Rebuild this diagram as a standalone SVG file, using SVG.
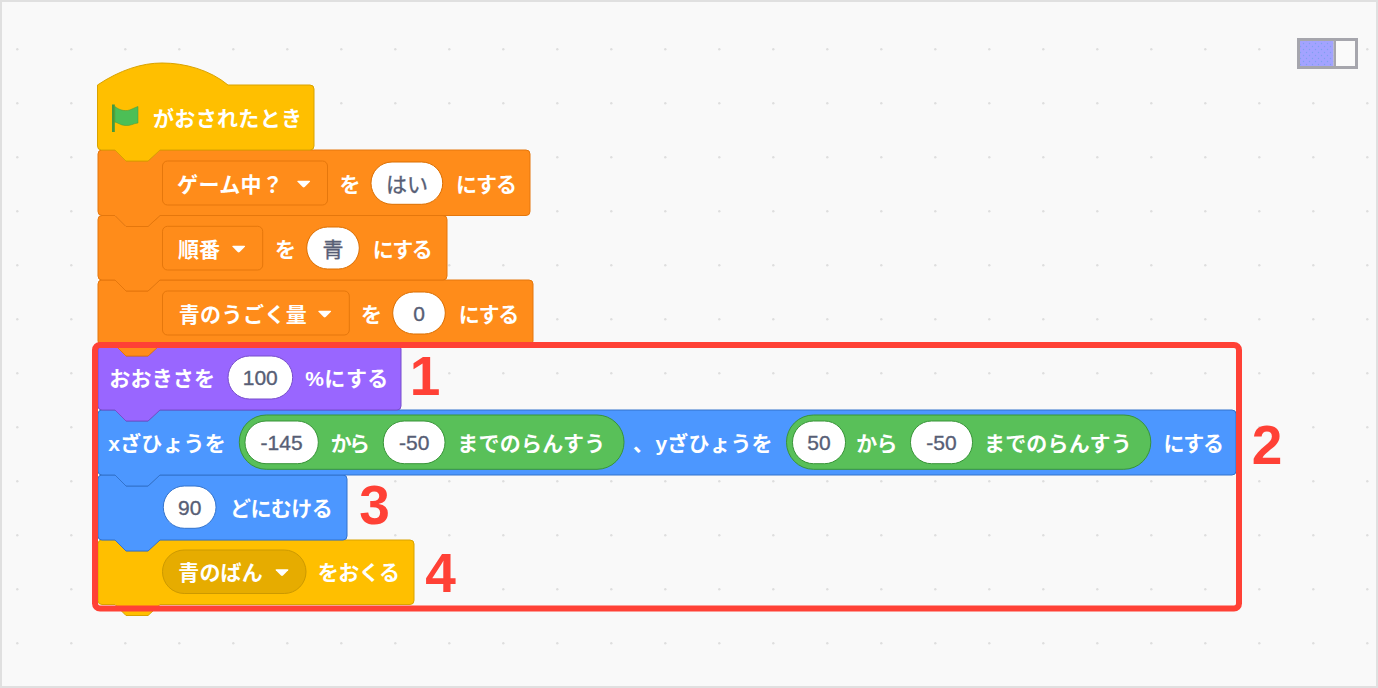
<svg xmlns="http://www.w3.org/2000/svg" width="1378" height="688" viewBox="0 0 1378 688">
<style>
.t{font-family:"Liberation Sans","Noto Sans CJK JP",sans-serif;font-size:21px;font-weight:700;fill:#fff;stroke:none}
.v{font-family:"Liberation Sans","Noto Sans CJK JP",sans-serif;font-size:21px;fill:#575e75;stroke:#575e75;stroke-width:.35;text-anchor:middle}
.n{font-family:"Liberation Sans",sans-serif;font-size:55px;font-weight:700;fill:#ff4136;text-anchor:middle}
.or{fill:#ff8c1a;stroke:#e5770c}
.pu{fill:#9966ff;stroke:#774dcb}
.bl{fill:#4c97ff;stroke:#3373cc}
.ye{fill:#ffbf00;stroke:#d9a300}
.gr{fill:#59c059;stroke:#389438}
.pi{fill:#fff}
.tr{fill:#fff}
</style>
<defs>
<pattern id="grid" width="54" height="54" patternUnits="userSpaceOnUse"><circle cx="17.3" cy="49.3" r="1.2" fill="#dedede"/></pattern>
<pattern id="speck" width="6" height="6" patternUnits="userSpaceOnUse"><rect width="6" height="6" fill="#a3a3ff"/><circle cx="1.5" cy="1.5" r=".7" fill="#7fa0f0"/><circle cx="4.5" cy="4.5" r=".7" fill="#7fa0f0"/></pattern>
<path id="drop" d="M-5.500,-3.200 H5.500 Q7,-3.200 6.200,-2.200 L1,3 Q0,3.900 -1,3 L-6.200,-2.200 Q-7,-3.200 -5.500,-3.200 Z"/>
</defs>
<rect id="canvas" x="1" y="1" width="1376" height="686" fill="#f9f9f9" stroke="#e0e0e0" stroke-width="2"/>
<rect id="dots" x="2" y="2" width="1374" height="684" fill="url(#grid)"/>
<g id="toggle">
<rect x="1298.5" y="39.5" width="58" height="28" fill="#fafafa" stroke="#a6a6ad" stroke-width="3"/>
<rect x="1300" y="41" width="33.5" height="25" fill="url(#speck)"/>
<rect x="1333.5" y="41" width="2.5" height="25" fill="#a6a6ad"/>
</g>

<g id="block-yellow-send">
<path class="ye" d="M98,544 Q98,540 102,540 H115 L126,551 H148 L160,540 H410 Q414,540 414,544 V600.500 Q414,604.500 410,604.500 H160 L148,615.500 H126 L115,604.500 H102 Q98,604.500 98,600.500 Z"/>
<rect x="162.500" y="550" width="143.500" height="43.500" rx="21.700" fill="#e6ac00" stroke="#cc9900"/>
<text class="t" x="178.300" y="580" textLength="84.400">青のばん</text>
<use href="#drop" x="282" y="572.500" class="tr"/>
<text class="t" x="317.700" y="580" textLength="82.300">をおくる</text>
</g>
<g id="block-blue-direction">
<path class="bl" d="M98,479 Q98,475 102,475 H115 L126,486 H148 L160,475 H343 Q347,475 347,479 V536 Q347,540 343,540 H160 L148,551 H126 L115,540 H102 Q98,540 98,536 Z"/>
<rect class="pi" x="163.300" y="486" width="52.700" height="42.300" rx="21" stroke="#3373cc"/>
<text class="v" x="189.700" y="515">90</text>
<text class="t" x="230" y="516" textLength="102.700">どにむける</text>
</g>
<g id="block-blue-goto">
<path class="bl" d="M98,414 Q98,410 102,410 H115 L126,421 H148 L160,410 H1232 Q1236,410 1236,414 V471 Q1236,475 1232,475 H160 L148,486 H126 L115,475 H102 Q98,475 98,471 Z"/>
<text class="t" x="108.300" y="451" textLength="117.400">xざひょうを</text>
<rect class="gr" x="239.300" y="415" width="384.700" height="54.300" rx="27"/>
<rect class="pi" x="245" y="421" width="73.300" height="42.700" rx="21" stroke="#389438"/>
<text class="v" x="281.600" y="450">-145</text>
<text class="t" x="330.700" y="451" textLength="39.300">から</text>
<rect class="pi" x="383.300" y="421" width="61.700" height="42.700" rx="21" stroke="#389438"/>
<text class="v" x="414.200" y="450">-50</text>
<text class="t" x="457.300" y="451" textLength="148">までのらんすう</text>
<text class="t" x="633" y="451">、</text>
<text class="t" x="655.600" y="451" textLength="117">yざひょうを</text>
<rect class="gr" x="786.500" y="415" width="364.300" height="54.300" rx="27"/>
<rect class="pi" x="792.500" y="421" width="53" height="42.700" rx="21" stroke="#389438"/>
<text class="v" x="819" y="450">50</text>
<text class="t" x="856.300" y="451" textLength="41.200">から</text>
<rect class="pi" x="910.500" y="421" width="62" height="42.700" rx="21" stroke="#389438"/>
<text class="v" x="941.500" y="450">-50</text>
<text class="t" x="984" y="451" textLength="147.700">までのらんすう</text>
<text class="t" x="1163.400" y="451" textLength="60.600">にする</text>
</g>
<g id="block-purple-size">
<path class="pu" d="M98,349 Q98,345 102,345 H115 L126,356 H148 L160,345 H397 Q401,345 401,349 V406 Q401,410 397,410 H160 L148,421 H126 L115,410 H102 Q98,410 98,406 Z"/>
<rect class="pi" x="228" y="356" width="64.700" height="43" rx="21.500" stroke="#774dcb"/>
<text class="v" x="260.300" y="385">100</text>
<text class="t" x="109.300" y="386" textLength="105.700">おおきさを</text>
<text class="t" x="305.300" y="386" textLength="83">%にする</text>
</g>
<g id="block-orange-amount">
<path class="or" d="M98,284 Q98,280 102,280 H115 L126,291 H148 L160,280 H529 Q533,280 533,284 V341 Q533,345 529,345 H160 L148,356 H126 L115,345 H102 Q98,345 98,341 Z"/>
<rect class="or" x="162.500" y="291" width="186.800" height="44" rx="5"/>
<text class="t" x="178.700" y="322" textLength="128">青のうごく量</text>
<use href="#drop" x="324.700" y="314" class="tr"/>
<text class="t" x="361" y="322" textLength="18">を</text>
<rect class="pi" x="392.700" y="292" width="52.600" height="42" rx="21" stroke="#db6e00"/>
<text class="v" x="419" y="321">0</text>
<text class="t" x="458.700" y="322" textLength="60.600">にする</text>
</g>
<g id="block-orange-order">
<path class="or" d="M98,219.500 Q98,215.500 102,215.500 H115 L126,226.500 H148 L160,215.500 H443 Q447,215.500 447,219.500 V276 Q447,280 443,280 H160 L148,291 H126 L115,280 H102 Q98,280 98,276 Z"/>
<rect class="or" x="162.500" y="226.300" width="100.200" height="43.700" rx="5"/>
<text class="t" x="178" y="257" textLength="42">順番</text>
<use href="#drop" x="238.700" y="249" class="tr"/>
<text class="t" x="275" y="257" textLength="18">を</text>
<rect class="pi" x="306.700" y="227" width="52.600" height="42" rx="21" stroke="#db6e00"/>
<text class="v" x="333" y="257" style="font-family:'Noto Sans CJK JP',sans-serif">青</text>
<text class="t" x="372.700" y="257" textLength="60">にする</text>
</g>
<g id="block-orange-game">
<path class="or" d="M98,154 Q98,150 102,150 H115 L126,161 H148 L160,150 H526 Q530,150 530,154 V211.500 Q530,215.500 526,215.500 H160 L148,226.500 H126 L115,215.500 H102 Q98,215.500 98,211.500 Z"/>
<rect class="or" x="162.500" y="161" width="165" height="44" rx="5"/>
<text class="t" x="177" y="192" textLength="106">ゲーム中？</text>
<use href="#drop" x="303.700" y="184" class="tr"/>
<text class="t" x="339.500" y="192" textLength="19">を</text>
<rect class="pi" x="371" y="162" width="71.700" height="42.300" rx="21" stroke="#db6e00"/>
<text class="v" x="407" y="192" style="font-family:'Noto Sans CJK JP',sans-serif">はい</text>
<text class="t" x="456" y="192" textLength="61">にする</text>
</g>
<g id="block-hat-flag">
<path class="ye" d="M97.500,85 C120,70 142,63 162,63 C185,63 210,70 228,85 H310 Q314,85 314,89 V146 Q314,150 310,150 H160 L148,161 H126 L115,150 H101.500 Q97.500,150 97.500,146 Z"/>
<rect x="112" y="104.500" width="2.800" height="27.500" fill="#45993d"/>
<path d="M114.800,106.500 C120,110.500 126,112 132,109 C134.500,107.800 136.500,107 138,106.500 V123 C133,123.500 131,126 125,125.500 C120.500,125.200 117.500,122.500 114.800,122 Z" fill="#4cbf56" stroke="#45993d" stroke-width=".5"/>
<text class="t" x="153" y="126" textLength="149">がおされたとき</text>
</g>

<rect id="highlight" x="95" y="345" width="1144" height="263.500" rx="5" fill="none" stroke="#ff4136" stroke-width="6"/>
<g id="labels">
<text class="n" x="425" y="395">1</text>
<text class="n" x="1267" y="464">2</text>
<text class="n" x="374.500" y="524">3</text>
<text class="n" x="440.500" y="592">4</text>
</g>
</svg>
